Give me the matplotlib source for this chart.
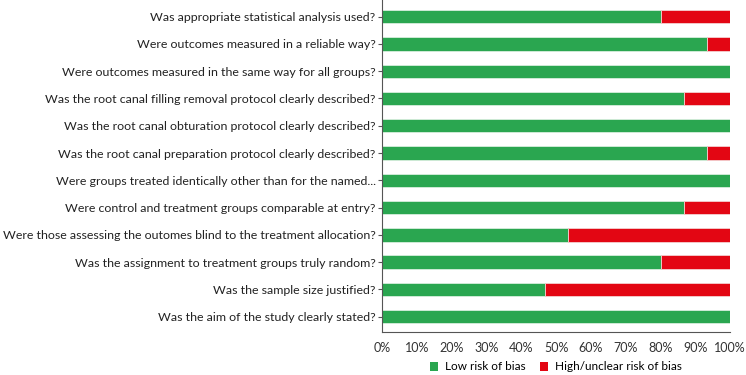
import matplotlib
matplotlib.use("Agg")
import matplotlib.pyplot as plt
from matplotlib.patches import Patch
from matplotlib.ticker import FuncFormatter

categories = [
    "Was appropriate statistical analysis used?",
    "Were outcomes measured in a reliable way?",
    "Were outcomes measured in the same way for all groups?",
    "Was the root canal filling removal protocol clearly described?",
    "Was the root canal obturation protocol clearly described?",
    "Was the root canal preparation protocol clearly described?",
    "Were groups treated identically other than for the named...",
    "Were control and treatment groups comparable at entry?",
    "Were those assessing the outomes blind to the treatment allocation?",
    "Was the assignment to treatment groups truly random?",
    "Was the sample size justified?",
    "Was the aim of the study clearly stated?",
]
low_risk = [80.0, 93.3, 100.0, 86.7, 100.0, 93.3, 100.0, 86.7, 53.3, 80.0, 46.7, 100.0]
high_risk = [100 - v for v in low_risk]
series_names = ["Low risk of bias", "High/unclear risk of bias"]
x_ticks = list(range(0, 101, 10))

green = "#2aa650"
red = "#e30613"

plt.rcParams['font.family'] = ['Lato', 'DejaVu Sans']

fig = plt.figure(figsize=(7.46, 3.75), dpi=100)
ax = fig.add_axes([382.5 / 746, 1 - 332 / 375, (730 - 382.5) / 746, 332 / 375])

y = list(range(len(categories)))
ax.barh(y, low_risk, height=0.49, color=green, edgecolor="#d8eedd", linewidth=0.6)
ax.barh(y, high_risk, left=low_risk, height=0.49, color=red, edgecolor="#f4d0d0", linewidth=0.6)

ax.set_ylim(len(categories) - 0.44, -0.61)
ax.set_xlim(0, 100)
ax.set_yticks(y)
ax.set_yticklabels(categories, fontsize=8.9, color="#222222")
ax.set_xticks(x_ticks)
ax.xaxis.set_major_formatter(FuncFormatter(lambda v, p: f"{int(v)}%"))
ax.tick_params(axis="x", labelsize=9.0, colors="#333333", length=0, pad=7)
ax.tick_params(axis="y", length=3, color="#555555", pad=2)

for s in ["top", "right"]:
    ax.spines[s].set_visible(False)
ax.spines["left"].set_color("#555555")
ax.spines["bottom"].set_color("#555555")
ax.spines["left"].set_linewidth(0.8)
ax.spines["bottom"].set_linewidth(0.8)

handles = [Patch(facecolor=green, edgecolor="none"), Patch(facecolor=red, edgecolor="none")]
fig.legend(handles, series_names, loc="center", bbox_to_anchor=(556 / 746, 1 - 367 / 375),
           ncol=2, frameon=False, fontsize=8.5, handlelength=0.7, handleheight=0.7,
           handletextpad=0.6, columnspacing=1.2)

fig.savefig("out.png", dpi=100)
